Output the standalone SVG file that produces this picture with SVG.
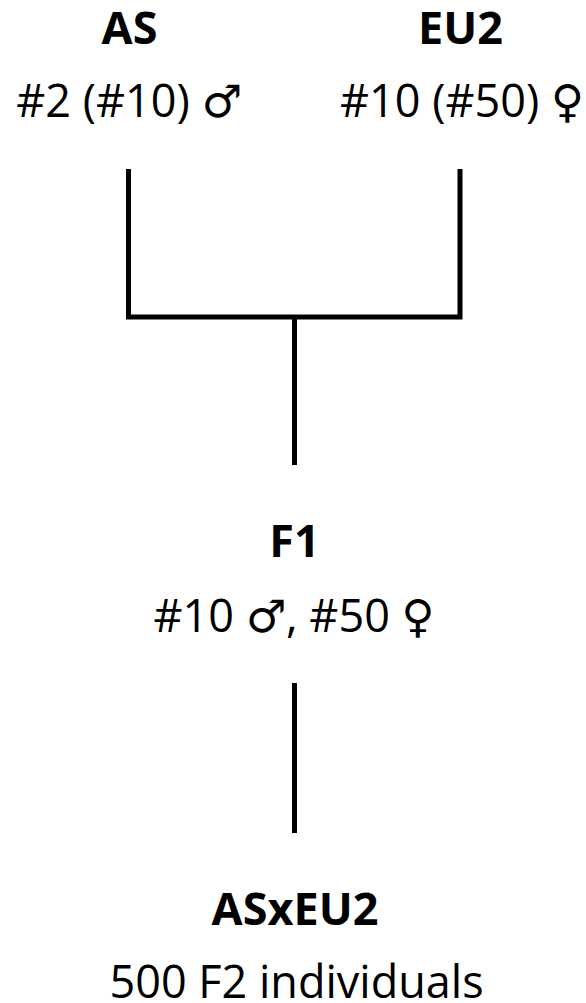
<svg xmlns="http://www.w3.org/2000/svg" width="586" height="1003" viewBox="0 0 586 1003">
<style>
.t{font-family:"Open Sans","Liberation Sans",sans-serif;font-size:45px;fill:#000;text-anchor:middle}
.b{font-weight:bold}
.s{font-family:"DejaVu Sans","Open Sans",sans-serif}
.c{fill:none;stroke:#000;stroke-width:5;stroke-linejoin:miter;stroke-linecap:butt}
</style>
<rect width="586" height="1003" fill="#fff"/>
<g id="connectors">
<path class="c" d="M128.5 169 V317 H460 V169"/>
<path class="c" d="M294.5 317 V465"/>
<path class="c" d="M294.5 683 V833"/>
</g>
<g id="node-AS">
<text class="t b" x="129.5" y="44">AS</text>
<text class="t" x="129" y="117">#2 (#10) <tspan class="s">♂</tspan></text>
</g>
<g id="node-EU2">
<text class="t b" x="460.5" y="44">EU2</text>
<text class="t" x="462" y="117">#10 (#50) <tspan class="s">♀</tspan></text>
</g>
<g id="node-F1">
<text class="t b" x="294.5" y="557">F1</text>
<text class="t" x="294" y="632">#10 <tspan class="s">♂</tspan>, #50 <tspan class="s">♀</tspan></text>
</g>
<g id="node-ASxEU2">
<text class="t b" x="295" y="925">ASxEU2</text>
<text class="t" x="296.5" y="998">500 F2 individuals</text>
</g>
</svg>
